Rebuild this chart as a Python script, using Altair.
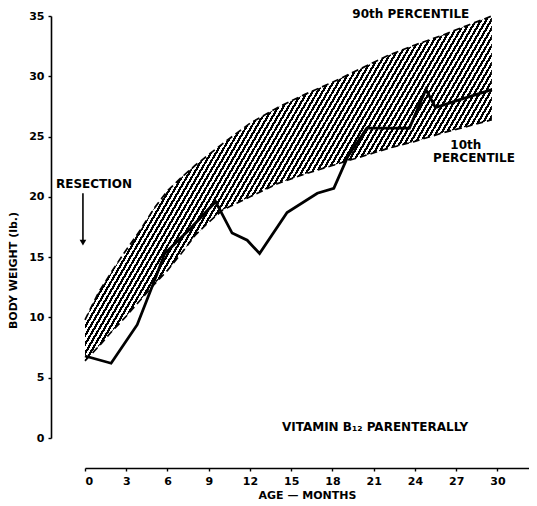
import altair as alt
import pandas as pd
import numpy as np

# ---- data ----
pct_month = [0, 1, 2, 3, 4, 5, 6, 7, 8, 9, 10, 12, 14, 16, 18, 20, 22, 24, 26, 28, 29.6]
p10 = [6.4, 7.6, 8.9, 10.1, 11.4, 12.7, 13.9, 15.3, 16.8, 17.9, 18.9, 20.0, 21.1, 21.9,
       22.6, 23.3, 24.0, 24.6, 25.3, 25.9, 26.4]
p90 = [9.8, 12.1, 13.9, 15.6, 17.2, 19.0, 20.5, 21.6, 22.6, 23.5, 24.4, 26.1, 27.4, 28.5,
       29.5, 30.6, 31.7, 32.6, 33.4, 34.3, 35.0]
pt_month = [0, 1.9, 3.8, 5.0, 5.8, 7.6, 9.5, 10.7, 11.8, 12.7, 14.7, 16.9, 18.1, 19.1,
            20.5, 23.6, 24.8, 25.5, 27.1, 29.6]
pt_weight = [6.8, 6.2, 9.4, 12.9, 15.3, 17.3, 19.6, 17.0, 16.4, 15.3, 18.7, 20.3, 20.7, 23.3,
             25.7, 25.7, 28.9, 27.4, 28.0, 28.9]
x_ticks = [0, 3, 6, 9, 12, 15, 18, 21, 24, 27, 30]
y_ticks = [0, 5, 10, 15, 20, 25, 30, 35]

ann_text = ["90th PERCENTILE", "10th", "PERCENTILE", "RESECTION", "VITAMIN  B\u2081\u2082  PARENTERALLY"]
ann_x = [23.7, 27.7, 28.3, 0.65, 21.1]
ann_y = [35.2, 24.3, 23.2, 21.1, 0.9]

arrow_x = [-0.15]
arrow_top = [20.3]
arrow_tip = [16.2]

# ---- layout ----
W, H = 444, 422
XMAX = 32.3
YMAX = 35
FONT = "DejaVu Sans"

band = pd.DataFrame({"x": pct_month, "y": p10, "y2": p90})
patient = pd.DataFrame({"x": pt_month, "y": pt_weight})
ann = pd.DataFrame({"x": ann_x, "y": ann_y, "t": ann_text})
arrow = pd.DataFrame({"x": arrow_x, "y": arrow_top, "y2": arrow_tip})

# hatch fill built as a striped linear gradient
theta = np.deg2rad(60)
spacing = 4.4
bw = max(pct_month) * W / XMAX
bh = (max(p90) - min(p10)) * H / YMAX
L = bw * np.sin(theta) + bh * np.cos(theta)
a = bw * np.sin(theta) / L
b = bh * np.cos(theta) / L
gx2 = a / (a * a + b * b)
gy2 = b / (a * a + b * b)
n = int(L / spacing)
stops = []
for k in range(n):
    s0 = k / n
    s1 = (k + 0.5) / n
    s2 = (k + 1) / n
    stops += [
        alt.GradientStop(color="black", offset=s0),
        alt.GradientStop(color="black", offset=s1),
        alt.GradientStop(color="white", offset=s1),
        alt.GradientStop(color="white", offset=s2),
    ]
hatch = alt.LinearGradient(gradient="linear", stops=stops, x1=0, y1=0, x2=float(gx2), y2=float(gy2))

xscale = alt.Scale(domain=[0, XMAX], nice=False, zero=False)
yscale = alt.Scale(domain=[0, YMAX], nice=False)

x_axis = alt.Axis(values=x_ticks, offset=30, tickSize=3, labelPadding=4, grid=False,
                  title="AGE \u2014 MONTHS", titlePadding=3)
y_axis = alt.Axis(values=y_ticks, offset=34, tickSize=3, labelPadding=4, grid=False,
                  title="BODY WEIGHT (lb.)", titlePadding=10, titleY=254)

X = alt.X("x:Q", scale=xscale, axis=x_axis)
Y = alt.Y("y:Q", scale=yscale, axis=y_axis)

band_layer = alt.Chart(band).mark_area(fill=hatch, opacity=1).encode(x=X, y=Y, y2="y2:Q")

dash10 = alt.Chart(band).mark_line(color="black", strokeWidth=1.7, strokeDash=[7, 4]).encode(x=X, y=Y)
dash90 = alt.Chart(band).mark_line(color="black", strokeWidth=1.7, strokeDash=[7, 4]).encode(
    x=X, y=alt.Y("y2:Q", scale=yscale, axis=y_axis))

pt_layer = alt.Chart(patient).mark_line(color="black", strokeWidth=2.8).encode(x=X, y=Y)

text_layer = alt.Chart(ann).mark_text(font=FONT, fontWeight="bold", fontSize=12, color="black",
                                      align="center", baseline="middle").encode(x=X, y=Y, text="t:N")

arrow_line = alt.Chart(arrow).mark_rule(color="black", strokeWidth=1.6).encode(x=X, y=Y, y2="y2:Q")
arrow_head = alt.Chart(arrow).mark_point(shape="triangle-down", filled=True, color="black",
                                         size=45, opacity=1).encode(
    x=X, y=alt.Y("y2:Q", scale=yscale, axis=y_axis))

chart = alt.layer(
    band_layer, dash10, dash90, pt_layer, text_layer, arrow_line, arrow_head
).properties(
    width=W, height=H,
    autosize=alt.AutoSizeParams(type="none"),
    padding={"left": 77, "top": 8, "right": 0, "bottom": 66},
    background="white",
).configure_view(stroke=None).configure_axis(
    domainColor="black", domainWidth=1.6, tickColor="black", tickWidth=1.4,
    labelFont=FONT, labelFontWeight="bold", labelFontSize=11, labelColor="black",
    titleFont=FONT, titleFontWeight="bold", titleFontSize=11, titleColor="black",
)

chart.save("out.html", embed_options={"renderer": "svg", "actions": False})
